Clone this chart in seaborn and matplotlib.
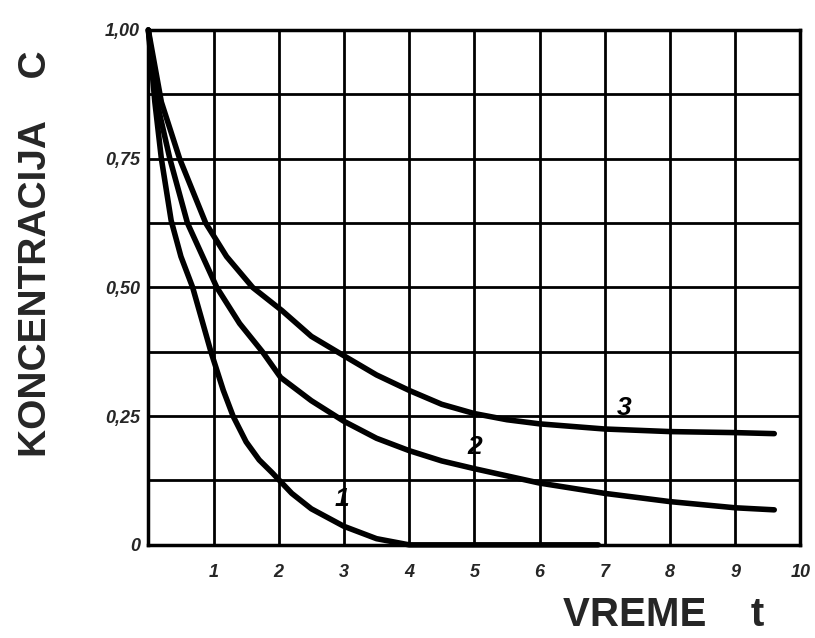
import matplotlib
matplotlib.use("Agg")
import matplotlib.pyplot as plt
import seaborn as sns
import pandas as pd

# --- data ---
t1 = [0.0, 0.1, 0.2, 0.35, 0.5, 0.68, 0.96, 1.15, 1.3, 1.5, 1.7, 1.9, 2.2, 2.5, 3.0, 3.5, 4.0, 5.0, 6.0, 6.9]
c1 = [1.0, 0.86, 0.75, 0.63, 0.56, 0.5, 0.375, 0.3, 0.25, 0.2, 0.165, 0.14, 0.1, 0.07, 0.036, 0.012, 0.0, 0.0, 0.0, 0.0]

t2 = [0.0, 0.15, 0.33, 0.6, 1.05, 1.4, 1.75, 2.03, 2.5, 3.0, 3.5, 4.0, 4.5, 5.0, 6.0, 7.0, 8.0, 9.0, 9.6]
c2 = [1.0, 0.85, 0.75, 0.625, 0.5, 0.43, 0.375, 0.325, 0.28, 0.24, 0.207, 0.183, 0.163, 0.148, 0.12, 0.1, 0.084, 0.072, 0.068]

t3 = [0.0, 0.2, 0.48, 0.88, 1.2, 1.6, 2.05, 2.5, 3.03, 3.5, 4.0, 4.5, 5.0, 5.5, 6.0, 7.0, 8.0, 9.0, 9.6]
c3 = [1.0, 0.86, 0.75, 0.625, 0.56, 0.5, 0.455, 0.405, 0.365, 0.33, 0.3, 0.273, 0.255, 0.243, 0.235, 0.225, 0.22, 0.218, 0.216]

curve_names = ["1", "2", "3"]
curve_label_pos_t = [2.97, 5.0, 7.3]
curve_label_pos_c = [0.09, 0.19, 0.265]

x_ticks = [1, 2, 3, 4, 5, 6, 7, 8, 9, 10]
x_tick_labels = ["1", "2", "3", "4", "5", "6", "7", "8", "9", "10"]
y_ticks = [0, 0.125, 0.25, 0.375, 0.5, 0.625, 0.75, 0.875, 1.0]
y_tick_labels = ["0", "", "0,25", "", "0,50", "", "0,75", "", "1,00"]

x_label = "VREME    t"
y_label = "KONCENTRACIJA    C"

# --- build table ---
df = pd.concat([
    pd.DataFrame({"t": t1, "C": c1, "kriva": "1"}),
    pd.DataFrame({"t": t2, "C": c2, "kriva": "2"}),
    pd.DataFrame({"t": t3, "C": c3, "kriva": "3"}),
], ignore_index=True)

sns.set_style("white")
plt.rcParams["font.family"] = ["Liberation Sans Narrow", "Liberation Sans", "DejaVu Sans"]

fig = plt.figure(figsize=(8.15, 6.38), dpi=100)
ax = fig.add_axes([0.182, 0.146, 0.800, 0.807])

for name in curve_names:
    sub = df[df["kriva"] == name]
    sns.lineplot(data=sub, x="t", y="C", ax=ax, color="black", linewidth=4.0,
                 sort=False, estimator=None, legend=False, clip_on=False)

ax.set_xlim(0, 10)
ax.set_ylim(0, 1.0)
ax.set_xticks(x_ticks)
ax.set_xticklabels(x_tick_labels, fontstyle="italic", fontweight="bold", fontsize=13)
ax.set_yticks(y_ticks)
ax.set_yticklabels(y_tick_labels, fontstyle="italic", fontweight="bold", fontsize=13)
ax.tick_params(axis="x", length=0, pad=14)
ax.tick_params(axis="y", length=0, pad=6)
ax.grid(True, color="black", linewidth=2.0)
ax.set_axisbelow(True)
for s in ax.spines.values():
    s.set_color("black")
    s.set_linewidth(2.5)

for name, tx, cy in zip(curve_names, curve_label_pos_t, curve_label_pos_c):
    ax.text(tx, cy, name, fontsize=19, fontstyle="italic", fontweight="bold",
            ha="center", va="center", color="black")

ax.set_xlabel(x_label, fontsize=29, fontweight="bold")
ax.set_ylabel(y_label, fontsize=28, fontweight="bold")
ax.xaxis.set_label_coords(0.79, -0.10)
ax.yaxis.set_label_coords(-0.145, 0.565)

fig.savefig("out.png", dpi=100, facecolor="white")
